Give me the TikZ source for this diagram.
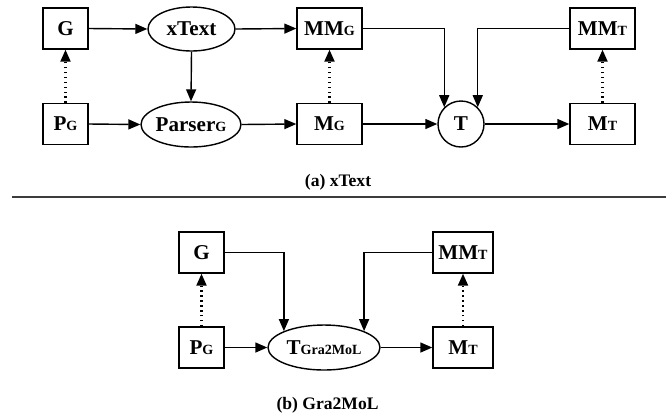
\documentclass[tikz,border=0pt]{standalone}
\usepackage{fontspec}
\setmainfont{Liberation Serif}
\usepackage{tikz}
\usetikzlibrary{arrows.meta,shapes.geometric,positioning,calc}
\usepackage{xcolor}
\definecolor{rulegray}{RGB}{60,60,60}
\newcommand{\lowsub}[1]{{\fontsize{8}{8}\selectfont #1}}

\begin{document}
\begin{tikzpicture}[
  every node/.style={font=\fontsize{12}{14}\selectfont\bfseries},
  box/.style={draw,line width=0.8pt,inner sep=0pt,minimum width=0.9cm,minimum height=0.82cm},
  wbox/.style={box,minimum width=1.3cm},
  oval/.style={draw,ellipse,line width=0.8pt,inner sep=0pt,minimum width=1.74cm,minimum height=0.88cm},
  xform/.style={draw,circle,line width=0.8pt,inner sep=0pt,minimum size=0.92cm},
  caption/.style={font=\fontsize{10}{12}\selectfont\bfseries},
  arr/.style={-{Triangle[length=2.4mm,width=2mm]},line width=0.8pt},
  conf/.style={arr,dotted,line width=1.2pt},
]
\useasboundingbox (0,0) rectangle (13.32,-8.36);

%% ── (a) xText ───────────────────────────────────────────────────────────
\node[box]  (G)   at (1.31,-0.57) {G};
\node[oval] (XT)  at (3.83,-0.58) {xText};
\node[wbox] (MMG) at (6.59,-0.57) {MM\lowsub{G}};
\node[wbox] (MMT) at (12.05,-0.57) {MM\lowsub{T}};
\node[box]  (PG)  at (1.31,-2.48) {P\lowsub{G}};
\node[oval,minimum width=1.9cm,minimum height=0.9cm] (PA) at (3.82,-2.49) {Parser\lowsub{G}};
\node[wbox] (MG)  at (6.59,-2.48) {M\lowsub{G}};
\node[xform] (T)  at (9.22,-2.48) {T};
\node[wbox] (MT)  at (12.05,-2.48) {M\lowsub{T}};
\node[caption] (CA) at (6.76,-3.64) {(a) xText};

\draw[arr] (G.east) -- (XT.west);
\draw[arr] (XT.east) -- (MMG.west);
\draw[arr] (XT.south) -- (PA.north);
\draw[arr] (PG.east) -- (PA.west);
\draw[arr] (PA.east) -- (MG.west);
\draw[arr] (MG.east) -- (T.west);
\draw[arr] (T.east) -- (MT.west);
\draw[arr] (MMG.east) -| (T.north west);
\draw[arr] (MMT.west) -| (T.north east);
\draw[conf] (PG.north) -- (G.south);
\draw[conf] (MG.north) -- (MMG.south);
\draw[conf] (MT.north) -- (MMT.south);

%% separator
\draw[rulegray,line width=1pt] (0.24,-3.94) -- (13.32,-3.94);

%% ── (b) Gra2MoL ─────────────────────────────────────────────────────────
\node[box]  (G2)   at (4.03,-5.05) {G};
\node[box,minimum width=1.2cm] (MMT2) at (9.26,-5.05) {MM\lowsub{T}};
\node[box]  (PG2)  at (4.03,-6.95) {P\lowsub{G}};
\node[oval,minimum width=2.24cm,minimum height=0.9cm] (TG) at (6.48,-6.95) {T\lowsub{Gra2MoL}};
\node[box,minimum width=1.2cm] (MT2) at (9.26,-6.95) {M\lowsub{T}};
\node[caption] (CB) at (6.55,-8.1) {(b) Gra2MoL};

\draw[arr] (PG2.east) -- (TG.west);
\draw[arr] (TG.east) -- (MT2.west);
\draw[arr] (G2.east) -| (TG.north west);
\draw[arr] (MMT2.west) -| (TG.north east);
\draw[conf] (PG2.north) -- (G2.south);
\draw[conf] (MT2.north) -- (MMT2.south);

\end{tikzpicture}
\end{document}
